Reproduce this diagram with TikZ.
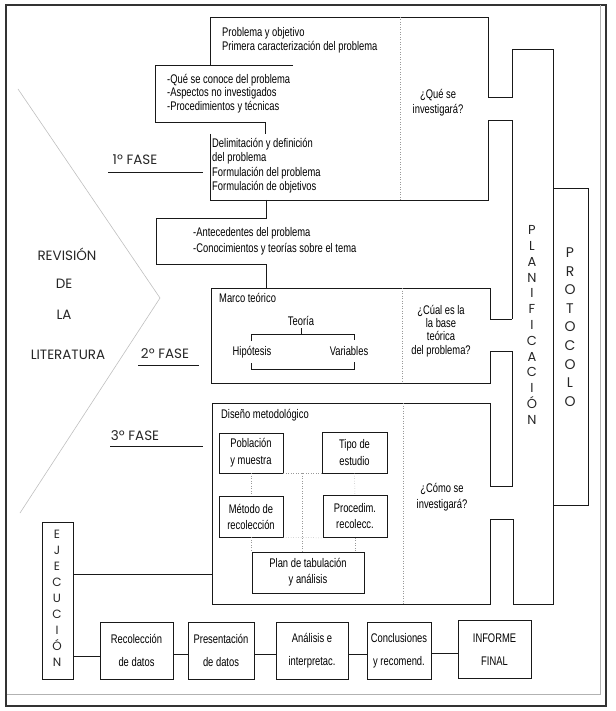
\documentclass[tikz,border=0pt]{standalone}
\usepackage{fontspec}
\setmainfont{Liberation Sans}
\newfontfamily\condf[FakeStretch=0.75]{Liberation Sans}
\newfontfamily\geof{Poppins}
\usetikzlibrary{calc}
\tikzset{
  ln/.style={draw=black!90, line width=0.7pt},
  dotl/.style={draw=black!40, dotted, line width=0.5pt},
  ct/.style={font=\condf\fontsize{12.5}{14}\selectfont, inner sep=0pt, text=black},
  ctl/.style={ct, anchor=west},
  bx/.style={ln, ct, align=center, inner sep=0pt},
  geo/.style={font=\geof\fontsize{13.5}{15}\selectfont, inner sep=0pt, text=black!85},
  ltr/.style={inner sep=0pt, text=black!85, align=center},
}
\begin{document}
\begin{tikzpicture}[x=1pt,y=-1pt]
\useasboundingbox (0,0) rectangle (615,711);
% frame
\draw[line width=1.6pt, black!80] (6,5) rectangle (606,706);
\draw[black!30, line width=0.5pt] (600,5) -- (600,694) -- (7,694);

% literature chevron
\draw[black!25, line width=0.6pt] (18,89) -- (160,298) -- (20,513);
\node[geo] (rev1) at (67,254) {REVISIÓN};
\node[geo] (rev2) at (64,284) {DE};
\node[geo] (rev3) at (64,315) {LA};
\node[geo] (rev4) at (68,355) {LITERATURA};

% phase labels
\node[geo] (f1) at (135,160) {1º FASE};
\draw[ln] (108,172) -- (203,172);
\node[geo] (f2) at (165,354) {2º FASE};
\draw[ln] (138,365) -- (199,365);
\node[geo] (f3) at (135,436) {3º FASE};
\draw[ln] (110,446) -- (203,446);

% outline of planning
\draw[ln] (488,97) -- (488,17) -- (210,17) -- (210,65);
\draw[ln] (293,65) -- (155,65) -- (155,122) -- (265,122) -- (265,134);
\draw[ln] (210,134) -- (210,200) -- (488,200) -- (488,120) -- (512,120) -- (512,319);
\draw[ln] (488,97) -- (512,97) -- (512,49) -- (553,49) -- (553,604) -- (513,604)
  -- (513,519) -- (490,519) -- (490,604) -- (212,604) -- (212,403) -- (490,403)
  -- (490,486) -- (512,486) -- (512,351) -- (490,351) -- (490,383) -- (211,383)
  -- (211,288) -- (490,288) -- (490,319) -- (512,319);
\draw[ln] (266,200) -- (266,218) -- (156,218) -- (156,264) -- (266,264) -- (266,288);
\draw[dotl] (400,17) -- (400,200);
\draw[dotl] (402,288) -- (402,383);
\draw[dotl] (403,403) -- (403,604);

% protocol
\node[ln, minimum width=35pt, minimum height=317pt, inner sep=0pt] (proto) at (570.5,346.5) {};
\node[ltr, font=\geof\fontsize{14}{18.6}\selectfont] (protot) at (570,327) {P\\R\\O\\T\\O\\C\\O\\L\\O};
\node[ltr, font=\geof\fontsize{13}{15.8}\selectfont] (plant) at (532,325) {P\\L\\A\\N\\I\\F\\I\\C\\A\\C\\I\\Ó\\N};

% phase 1 texts
\node[ctl] (p1) at (222,33) {Problema y objetivo};
\node[ctl] (p2) at (222,47) {Primera caracterización del problema};
\node[ct, align=center, font=\condf\fontsize{12.5}{15}\selectfont] (qse) at (438,102.5) {¿Qué se\\investigará?};
\node[ctl] (q1) at (167,80) {-Qué se conoce del problema};
\node[ctl] (q2) at (167,93.5) {-Aspectos no investigados};
\node[ctl] (q3) at (167,107) {-Procedimientos y técnicas};
\node[ctl] (d1) at (212,144) {Delimitación y definición};
\node[ctl] (d2) at (212,158) {del problema};
\node[ctl] (d3) at (212,173) {Formulación del problema};
\node[ctl] (d4) at (212,187) {Formulación de objetivos};
\node[ctl] (a1) at (193,233) {-Antecedentes del problema};
\node[ctl] (a2) at (193,249) {-Conocimientos y teorías sobre el tema};

% phase 2
\node[ctl] (marco) at (219,298) {Marco teórico};
\node[ct] (teo) at (301,321) {Teoría};
\node[ct] (hip) at (252,352) {Hipótesis};
\node[ct] (var) at (349,351) {Variables};
\draw[ln] (301,328) -- (301,334);
\draw[ln] (251,341) -- (251,334) -- (354,334) -- (354,340);
\draw[ln] (251,363) -- (251,369) -- (354,369) -- (354,362);
\node[ct, align=center, font=\condf\fontsize{12.5}{13.3}\selectfont] (cual) at (441,331) {¿Cúal es la\\la base\\teórica\\del problema?};

% phase 3
\node[ctl] (dis) at (221,415) {Diseño metodológico};
\node[bx, minimum width=64pt, minimum height=40pt, font=\condf\fontsize{12.5}{17}\selectfont] (pob) at (251,453) {Población\\y muestra};
\node[bx, minimum width=65pt, minimum height=41pt, font=\condf\fontsize{12.5}{17}\selectfont] (tipo) at (354.5,452.5) {Tipo de\\estudio};
\node[bx, minimum width=64pt, minimum height=41pt, font=\condf\fontsize{12.5}{16}\selectfont] (met) at (251,516.5) {Método de\\recolección};
\node[bx, minimum width=64pt, minimum height=42pt, font=\condf\fontsize{12.5}{16}\selectfont] (proc) at (355,516.5) {Procedim.\\recolecc.};
\node[bx, minimum width=112pt, minimum height=41pt, font=\condf\fontsize{12.5}{16}\selectfont] (plan) at (308,572.5) {Plan de tabulación\\y análisis};
\draw[dotl] (pob.south east) -- (tipo.south west);
\draw[dotl] (met.south east) -- (proc.south west);
\draw[dotl] (pob.south) -- (met.north);
\draw[dotl] (tipo.south) -- (proc.north);
\draw[dotl] (met.south) -- (met.south |- plan.north);
\draw[dotl] (proc.south) -- (proc.south |- plan.north);
\coordinate (mid) at ($(pob.south east)!0.5!(tipo.south west)$);
\draw[dotl] (mid) -- (mid |- plan.north);
\node[ct, align=center, font=\condf\fontsize{12.5}{16}\selectfont] (como) at (442,497) {¿Cómo se\\investigará?};

% execution
\node[ln, minimum width=31pt, minimum height=157pt, inner sep=0pt] (ejec) at (57.5,600.5) {};
\node[ltr, font=\geof\fontsize{12}{16}\selectfont] (eject) at (57,598) {E\\J\\E\\C\\U\\C\\I\\Ó\\N};
\coordinate (dleft) at (212,574);
\draw[ln] (ejec.east |- dleft) -- (dleft);

% bottom chain
\tikzset{bb/.style={bx, minimum height=57pt, font=\condf\fontsize{12.5}{23}\selectfont}}
\node[bb, minimum width=73pt] (rec) at (136.5,650.5) {Recolección\\de datos};
\node[bb, minimum width=66pt] (pres) at (221,650.5) {Presentación\\de datos};
\node[bb, minimum width=72pt] (ana) at (312,650.5) {Análisis e\\interpretac.};
\node[bb, minimum width=64pt] (conc) at (399,650.5) {Conclusiones\\y recomend.};
\node[bb, minimum width=73pt, minimum height=58pt] (inf) at (494.5,649.5) {INFORME\\FINAL};
\draw[ln] (ejec.east |- 0,656) -- (rec.west |- 0,656);
\draw[ln] (rec.east |- 0,654) -- (pres.west |- 0,654);
\draw[ln] (pres.east |- 0,654) -- (ana.west |- 0,654);
\draw[ln] (ana.east |- 0,654) -- (conc.west |- 0,654);
\draw[ln] (conc.east |- 0,653) -- (inf.west |- 0,653);
\end{tikzpicture}
\end{document}
